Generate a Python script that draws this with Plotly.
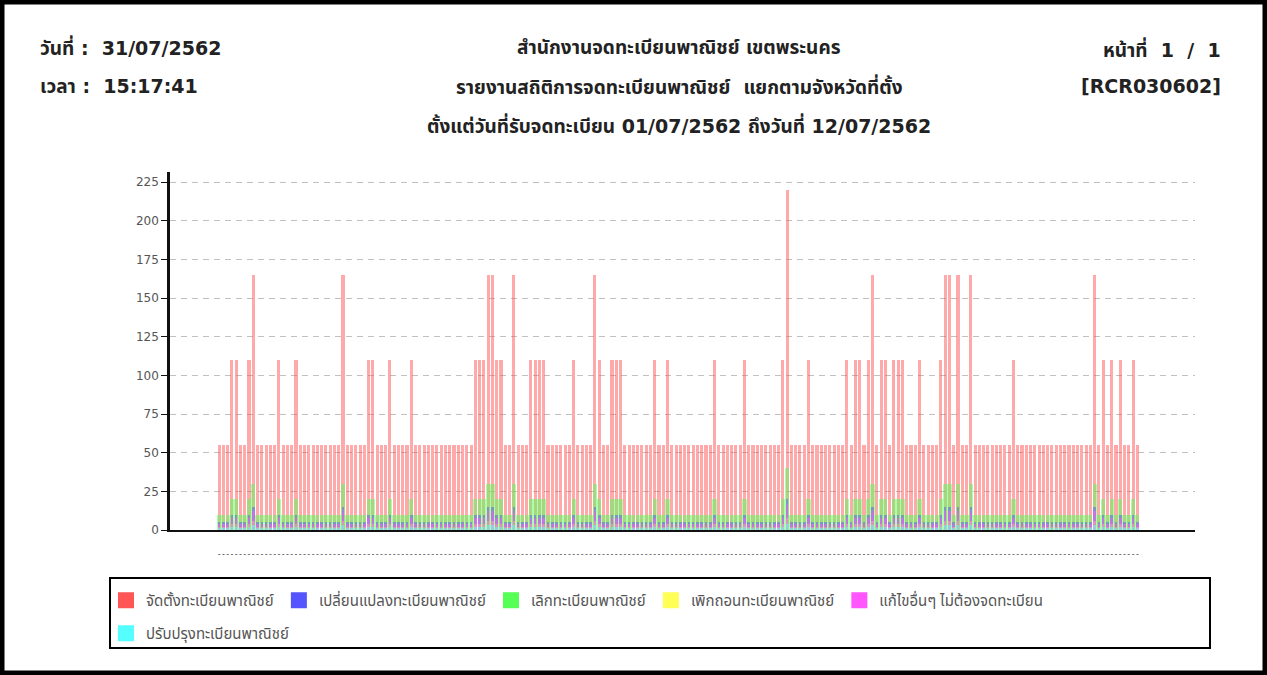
import plotly.graph_objects as go

# ---------------- data ----------------
provinces = [f"P{i:03d}" for i in range(1, 241)]

series_names = [
    "จัดตั้งทะเบียนพาณิชย์",
    "เปลี่ยนแปลงทะเบียนพาณิชย์",
    "เลิกทะเบียนพาณิชย์",
    "เพิกถอนทะเบียนพาณิชย์",
    "แก้ไขอื่นๆ ไม่ต้องจดทะเบียน",
    "ปรับปรุงทะเบียนพาณิชย์",
]

establish = [0]*11 + [
    55,55,55,110,110,55,55,110,165,55,
    55,55,55,55,110,55,55,55,110,55,
    55,55,55,55,55,55,55,55,55,165,
    55,55,55,55,55,110,110,55,55,55,
    110,55,55,55,55,110,55,55,55,55,
    55,55,55,55,55,55,55,55,55,55,
    110,110,110,165,165,110,110,55,55,165,
    55,55,55,110,110,110,110,55,55,55,
    55,55,55,110,55,55,55,55,165,110,
    55,55,110,110,110,55,55,55,55,55,
    55,55,110,55,55,110,55,55,55,55,
    55,55,55,55,55,55,110,55,55,55,
    55,55,55,110,55,55,55,55,55,55,
    55,55,110,220,55,55,55,55,110,55,
    55,55,55,55,55,55,55,110,55,110,
    110,55,110,165,55,110,110,55,110,110,
    110,55,55,55,110,55,55,55,55,110,
    165,165,55,165,55,55,165,55,55,55,
    55,55,55,55,55,55,110,55,55,55,
    55,55,55,55,55,55,55,55,55,55,
    55,55,55,55,55,165,55,110,55,110,
    55,110,55,55,110,55,
] + [0]*13

change = [0]*11 + [
    5,5,5,10,10,5,5,10,15,5,
    5,5,5,5,10,5,5,5,10,5,
    5,5,5,5,5,5,5,5,5,15,
    5,5,5,5,5,10,10,5,5,5,
    10,5,5,5,5,10,5,5,5,5,
    5,5,5,5,5,5,5,5,5,5,
    10,10,10,15,15,10,10,5,5,15,
    5,5,5,10,10,10,10,5,5,5,
    5,5,5,10,5,5,5,5,15,10,
    5,5,10,10,10,5,5,5,5,5,
    5,5,10,5,5,10,5,5,5,5,
    5,5,5,5,5,5,10,5,5,5,
    5,5,5,10,5,5,5,5,5,5,
    5,5,10,20,5,5,5,5,10,5,
    5,5,5,5,5,5,5,10,5,10,
    10,5,10,15,5,10,10,5,10,10,
    10,5,5,5,10,5,5,5,5,10,
    15,15,5,15,5,5,15,5,5,5,
    5,5,5,5,5,5,10,5,5,5,
    5,5,5,5,5,5,5,5,5,5,
    5,5,5,5,5,15,5,10,5,10,
    5,10,5,5,10,5,
] + [0]*13

cancel = [0]*11 + [
    10,10,10,20,20,10,10,20,30,10,
    10,10,10,10,20,10,10,10,20,10,
    10,10,10,10,10,10,10,10,10,30,
    10,10,10,10,10,20,20,10,10,10,
    20,10,10,10,10,20,10,10,10,10,
    10,10,10,10,10,10,10,10,10,10,
    20,20,20,30,30,20,20,10,10,30,
    10,10,10,20,20,20,20,10,10,10,
    10,10,10,20,10,10,10,10,30,20,
    10,10,20,20,20,10,10,10,10,10,
    10,10,20,10,10,20,10,10,10,10,
    10,10,10,10,10,10,20,10,10,10,
    10,10,10,20,10,10,10,10,10,10,
    10,10,20,40,10,10,10,10,20,10,
    10,10,10,10,10,10,10,20,10,20,
    20,10,20,30,10,20,20,10,20,20,
    20,10,10,10,20,10,10,10,10,20,
    30,30,10,30,10,10,30,10,10,10,
    10,10,10,10,10,10,20,10,10,10,
    10,10,10,10,10,10,10,10,10,10,
    10,10,10,10,10,30,10,20,10,20,
    10,20,10,10,20,10,
] + [0]*13

revoke = [0]*11 + [
    2,2,2,4,4,2,2,4,6,2,
    2,2,2,2,4,2,2,2,4,2,
    2,2,2,2,2,2,2,2,2,6,
    2,2,2,2,2,4,4,2,2,2,
    4,2,2,2,2,4,2,2,2,2,
    2,2,2,2,2,2,2,2,2,2,
    4,4,4,6,6,4,4,2,2,6,
    2,2,2,4,4,4,4,2,2,2,
    2,2,2,4,2,2,2,2,6,4,
    2,2,4,4,4,2,2,2,2,2,
    2,2,4,2,2,4,2,2,2,2,
    2,2,2,2,2,2,4,2,2,2,
    2,2,2,4,2,2,2,2,2,2,
    2,2,4,8,2,2,2,2,4,2,
    2,2,2,2,2,2,2,4,2,4,
    4,2,4,6,2,4,4,2,4,4,
    4,2,2,2,4,2,2,2,2,4,
    6,6,2,6,2,2,6,2,2,2,
    2,2,2,2,2,2,4,2,2,2,
    2,2,2,2,2,2,2,2,2,2,
    2,2,2,2,2,6,2,4,2,4,
    2,4,2,2,4,2,
] + [0]*13

other_edit = [0]*11 + [
    4,4,4,8,8,4,4,8,12,4,
    4,4,4,4,8,4,4,4,8,4,
    4,4,4,4,4,4,4,4,4,12,
    4,4,4,4,4,8,8,4,4,4,
    8,4,4,4,4,8,4,4,4,4,
    4,4,4,4,4,4,4,4,4,4,
    8,8,8,12,12,8,8,4,4,12,
    4,4,4,8,8,8,8,4,4,4,
    4,4,4,8,4,4,4,4,12,8,
    4,4,8,8,8,4,4,4,4,4,
    4,4,8,4,4,8,4,4,4,4,
    4,4,4,4,4,4,8,4,4,4,
    4,4,4,8,4,4,4,4,4,4,
    4,4,8,16,4,4,4,4,8,4,
    4,4,4,4,4,4,4,8,4,8,
    8,4,8,12,4,8,8,4,8,8,
    8,4,4,4,8,4,4,4,4,8,
    12,12,4,12,4,4,12,4,4,4,
    4,4,4,4,4,4,8,4,4,4,
    4,4,4,4,4,4,4,4,4,4,
    4,4,4,4,4,12,4,8,4,8,
    4,8,4,4,8,4,
] + [0]*13

improve = [0]*11 + [
    1,1,1,2,2,1,1,2,3,1,
    1,1,1,1,2,1,1,1,2,1,
    1,1,1,1,1,1,1,1,1,3,
    1,1,1,1,1,2,2,1,1,1,
    2,1,1,1,1,2,1,1,1,1,
    1,1,1,1,1,1,1,1,1,1,
    2,2,2,3,3,2,2,1,1,3,
    1,1,1,2,2,2,2,1,1,1,
    1,1,1,2,1,1,1,1,3,2,
    1,1,2,2,2,1,1,1,1,1,
    1,1,2,1,1,2,1,1,1,1,
    1,1,1,1,1,1,2,1,1,1,
    1,1,1,2,1,1,1,1,1,1,
    1,1,2,4,1,1,1,1,2,1,
    1,1,1,1,1,1,1,2,1,2,
    2,1,2,3,1,2,2,1,2,2,
    2,1,1,1,2,1,1,1,1,2,
    3,3,1,3,1,1,3,1,1,1,
    1,1,1,1,1,1,2,1,1,1,
    1,1,1,1,1,1,1,1,1,1,
    1,1,1,1,1,3,1,2,1,2,
    1,2,1,1,2,1,
] + [0]*13

y_ticks = [0, 25, 50, 75, 100, 125, 150, 175, 200, 225]
x_tick_labels = ["-" if v > 0 else "" for v in establish]

header_left = ["วันที่ :  31/07/2562", "เวลา :  15:17:41"]
header_center = [
    "สำนักงานจดทะเบียนพาณิชย์ เขตพระนคร",
    "รายงานสถิติการจดทะเบียนพาณิชย์  แยกตามจังหวัดที่ตั้ง",
    "ตั้งแต่วันที่รับจดทะเบียน 01/07/2562 ถึงวันที่ 12/07/2562",
]
header_right = ["หน้าที่  1  /  1", "[RCR030602]"]

# ---------------- styling ----------------
solid = ["#FF5555", "#5555FF", "#55FF55", "#FFFF55", "#FF55FF", "#55FFFF"]
alpha = ["rgba(255,85,85,0.5)", "rgba(85,85,255,0.5)", "rgba(85,255,85,0.5)",
         "rgba(255,255,85,0.5)", "rgba(255,85,255,0.5)", "rgba(85,255,255,0.5)"]
widths = [0.72, 0.6, 0.98, 0.6, 0.6, 0.7]
values = [establish, change, cancel, revoke, other_edit, improve]
legend_row = ["legend", "legend", "legend", "legend", "legend", "legend2"]

W, H = 1267, 675
L, R, T, B = 170, 72, 172, 145
PW, PH = W - L - R, H - T - B


def px(x):
    return (x - L) / PW


def py(y):
    return (H - B - y) / PH


THAI = "'DejaVu Sans', Tahoma, 'Noto Sans Thai', sans-serif"
LEGEND_FONT = dict(family="'Noto Sans Thai', Tahoma, sans-serif", size=15, color="#555555")

fig = go.Figure()

# draw order: red, green, blue, yellow, magenta, cyan
for i in [0, 2, 1, 3, 4, 5]:
    fig.add_trace(go.Bar(
        x=provinces, y=values[i], name=series_names[i],
        marker=dict(color=alpha[i], line=dict(width=0)),
        width=widths[i], showlegend=False, hoverinfo="x+y+name",
    ))

for i in range(6):
    fig.add_trace(go.Scatter(
        x=[None], y=[None], mode="markers", name=series_names[i],
        marker=dict(symbol="square", size=16, color=solid[i], line=dict(width=0)),
        showlegend=True, legend=legend_row[i],
    ))

annotations = []
for k, t in enumerate(header_left):
    annotations.append(dict(text=t, x=px(38), y=py(47 + 39 * k), xanchor="left", yanchor="middle"))
for k, t in enumerate(header_center):
    annotations.append(dict(text=t, x=px(679), y=py(47 + 39 * k), xanchor="center", yanchor="middle"))
for k, t in enumerate(header_right):
    annotations.append(dict(text=t, x=px(1223), y=py(49 + 37 * k), xanchor="right", yanchor="middle"))
for a in annotations:
    a.update(xref="paper", yref="paper", showarrow=False,
             font=dict(family=THAI, size=19, color="#222222", weight="bold"))

shapes = [
    dict(type="rect", xref="paper", yref="paper",
         x0=px(110), x1=px(1210), y0=py(648), y1=py(578),
         line=dict(color="black", width=2), fillcolor="rgba(0,0,0,0)", layer="below"),
    dict(type="rect", xref="paper", yref="paper",
         x0=px(0), x1=px(W), y0=py(H), y1=py(0),
         line=dict(color="black", width=9), fillcolor="rgba(0,0,0,0)"),
]

legend_common = dict(
    orientation="h", xref="container", yref="container",
    x=106 / W, xanchor="left", yanchor="top",
    font=LEGEND_FONT, bgcolor="rgba(0,0,0,0)", borderwidth=0, itemwidth=30,
)

fig.update_layout(
    width=W, height=H,
    margin=dict(l=L, r=R, t=T, b=B, autoexpand=False),
    paper_bgcolor="white", plot_bgcolor="white",
    barmode="overlay", bargap=0,
    annotations=annotations, shapes=shapes,
    legend=dict(legend_common, y=1 - 584 / H),
    legend2=dict(legend_common, y=1 - 617 / H),
    xaxis=dict(
        type="category", categoryorder="array", categoryarray=provinces,
        tickmode="array", tickvals=provinces, ticktext=x_tick_labels,
        tickangle=0, ticks="", showgrid=False,
        tickfont=dict(family="DejaVu Sans", size=8, color="#444444"),
        ticklabelstandoff=15,
        showline=True, linecolor="#111111", linewidth=2,
        range=[-0.5, len(provinces) - 0.5], fixedrange=True,
    ),
    yaxis=dict(
        range=[0, 231.5], tickmode="array", tickvals=y_ticks,
        ticks="outside", ticklen=6, tickcolor="#111111", tickwidth=1,
        tickfont=dict(family="DejaVu Sans", size=12, color="#555555"),
        showline=True, linecolor="#111111", linewidth=2.5,
        showgrid=True, gridcolor="#c0c0c0", gridwidth=1, griddash="6px,5px",
        zeroline=False, fixedrange=True,
    ),
)

fig.write_html(
    "out.html",
    config={"displayModeBar": False},
    post_script="document.body.style.margin='0px';document.body.style.overflow='hidden';",
)
